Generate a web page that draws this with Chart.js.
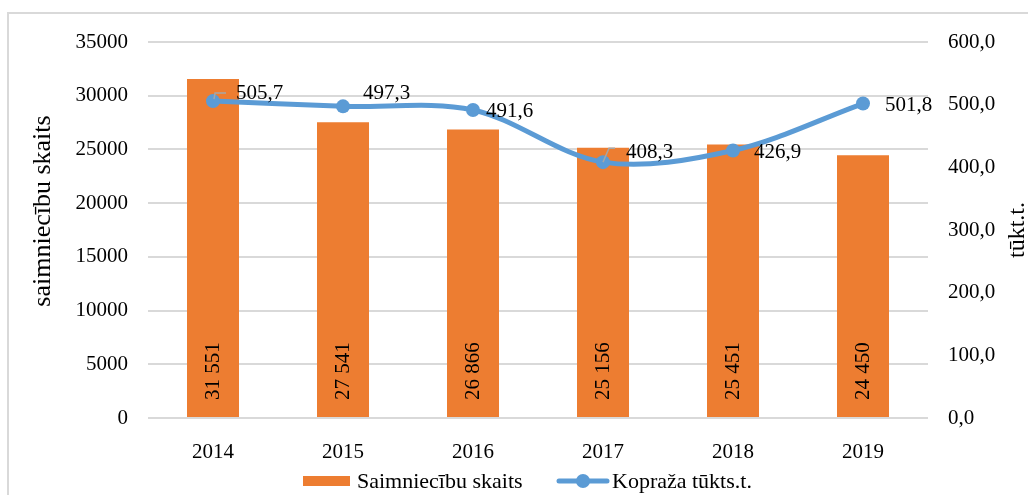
<!DOCTYPE html>
<html><head><meta charset="utf-8">
<script src="https://cdn.jsdelivr.net/npm/chart.js@4/dist/chart.umd.min.js"></script>
<style>html,body{margin:0;padding:0;background:#fff;overflow:hidden}</style>
</head><body>
<canvas id="c" width="1028" height="495"></canvas>
<script>
const categories = ['2014', '2015', '2016', '2017', '2018', '2019'];
const households = [31551, 27541, 26866, 25156, 25451, 24450];
const harvest = [505.7, 497.3, 491.6, 408.3, 426.9, 501.8];
const seriesNames = ['Saimniecību skaits', 'Kopraža tūkts.t.'];
const leftTitle = 'saimniecību skaits';
const rightTitle = 'tūkt.t.';

const ORANGE = '#ED7D31', BLUE = '#5B9BD5', GRID = '#d9d9d9';
const SERIF = '"Liberation Serif", "Times New Roman", serif';

const fmtThousands = v => String(v).replace(/\B(?=(\d{3})+(?!\d))/g, ' ');
const fmtComma = v => v.toFixed(1).replace('.', ',');

const extras = {
  id: 'extras',
  beforeDraw(chart) {
    const ctx = chart.ctx;
    ctx.save();
    ctx.strokeStyle = GRID; ctx.lineWidth = 2;
    ctx.strokeRect(8, 13, 1100, 600);
    ctx.restore();
  },
  afterDatasetsDraw(chart) {
    const ctx = chart.ctx;
    ctx.save();
    ctx.fillStyle = '#000';
    ctx.font = '21px ' + SERIF;
    const bm = chart.getDatasetMeta(0);
    bm.data.forEach((el, i) => {
      ctx.save();
      ctx.translate(el.x, el.base - 46);
      ctx.rotate(-Math.PI / 2);
      ctx.textAlign = 'center'; ctx.textBaseline = 'middle';
      ctx.fillText(fmtThousands(households[i]), 0, 0);
      ctx.restore();
    });
    const nudge = [[23, -8], [20, -13], [13, 2], [23, -10], [21, 2], [22, 2]];
    const lm = chart.getDatasetMeta(1);
    ctx.strokeStyle = '#a6a6a6'; ctx.lineWidth = 1.5;
    const p0 = lm.data[0], p3 = lm.data[3];
    ctx.beginPath();
    ctx.moveTo(p0.x + 1, p0.y - 2); ctx.lineTo(p0.x + 2, p0.y - 8); ctx.lineTo(p0.x + 13, p0.y - 8);
    ctx.moveTo(p3.x, p3.y); ctx.lineTo(p3.x + 6, p3.y - 14); ctx.lineTo(p3.x + 12, p3.y - 14);
    ctx.stroke();
    lm.data.forEach((el, i) => {
      ctx.textAlign = 'left'; ctx.textBaseline = 'middle';
      ctx.fillText(fmtComma(harvest[i]), el.x + nudge[i][0], el.y + nudge[i][1]);
    });
    ctx.restore();
  },
  afterDraw(chart) {
    const ctx = chart.ctx;
    ctx.save();
    ctx.fillStyle = '#000';
    ctx.font = '26px ' + SERIF;
    ctx.save();
    ctx.translate(43, 211); ctx.rotate(-Math.PI / 2);
    ctx.textAlign = 'center'; ctx.textBaseline = 'middle';
    ctx.fillText(leftTitle, 0, 0);
    ctx.restore();
    ctx.font = '24px ' + SERIF;
    ctx.save();
    ctx.translate(1018, 230); ctx.rotate(-Math.PI / 2);
    ctx.textAlign = 'center'; ctx.textBaseline = 'middle';
    ctx.fillText(rightTitle, 0, 0);
    ctx.restore();
    ctx.font = '22px ' + SERIF;
    ctx.textAlign = 'left'; ctx.textBaseline = 'middle';
    ctx.fillStyle = ORANGE;
    ctx.fillRect(303, 476, 47, 10);
    ctx.fillStyle = '#000';
    ctx.fillText(seriesNames[0], 357, 482);
    ctx.strokeStyle = BLUE; ctx.lineWidth = 5; ctx.lineCap = 'round';
    ctx.beginPath(); ctx.moveTo(559, 481); ctx.lineTo(607, 481); ctx.stroke();
    ctx.fillStyle = BLUE;
    ctx.beginPath(); ctx.arc(583, 481, 7, 0, Math.PI * 2); ctx.fill();
    ctx.fillStyle = '#000';
    ctx.fillText(seriesNames[1], 612, 482);
    ctx.restore();
  }
};

new Chart(document.getElementById('c'), {
  data: {
    labels: categories,
    datasets: [
      { type: 'bar', label: seriesNames[0], data: households, backgroundColor: ORANGE,
        yAxisID: 'y', order: 2, barPercentage: 0.4, categoryPercentage: 1 },
      { type: 'line', label: seriesNames[1], data: harvest, borderColor: BLUE, backgroundColor: BLUE,
        borderWidth: 5, pointRadius: 7, pointHoverRadius: 7, pointBorderWidth: 0,
        pointBackgroundColor: BLUE, tension: 0.33, yAxisID: 'y1', order: 1 }
    ]
  },
  options: {
    responsive: false, animation: false, devicePixelRatio: 1,
    layout: { padding: { left: 0, right: 0, top: 42, bottom: 37 } },
    plugins: { legend: { display: false }, tooltip: { enabled: false } },
    scales: {
      x: {
        grid: { display: false }, border: { display: false },
        ticks: { color: '#000', font: { family: SERIF, size: 21 }, padding: 14 },
        afterFit(s) { s.height = 40; s.paddingLeft = 0; s.paddingRight = 0; }
      },
      y: {
        position: 'left', min: 0, max: 35000,
        grid: { color: GRID, lineWidth: 2, drawTicks: false }, border: { display: false },
        ticks: { stepSize: 5000, color: '#000', font: { family: SERIF, size: 21 }, padding: 20,
                 callback: v => String(v) },
        afterFit(s) { s.width = 148; s.paddingTop = 0; s.paddingBottom = 0; }
      },
      y1: {
        position: 'right', min: 0, max: 600,
        grid: { display: false, drawTicks: false }, border: { display: false },
        ticks: { stepSize: 100, color: '#000', font: { family: SERIF, size: 21 }, padding: 20,
                 callback: v => fmtComma(v) },
        afterFit(s) { s.width = 100; s.paddingTop = 0; s.paddingBottom = 0; }
      }
    }
  },
  plugins: [extras]
});
</script>
</body></html>
